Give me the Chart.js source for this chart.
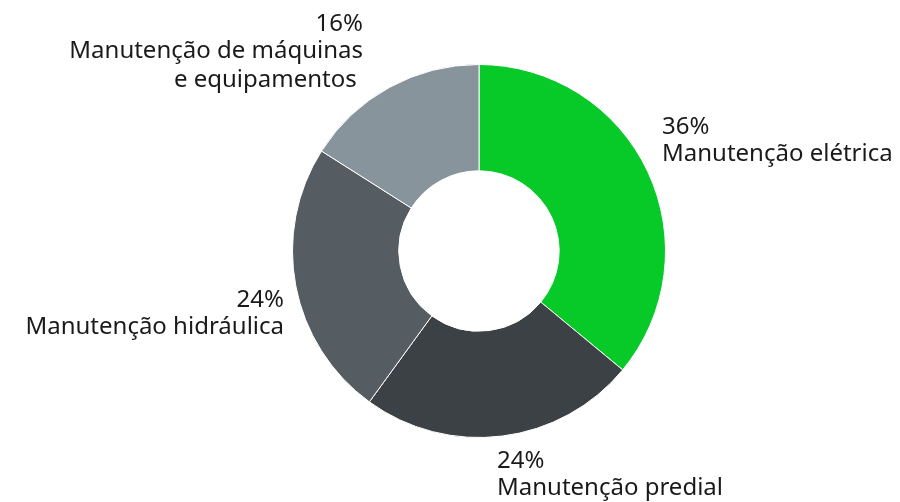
<!DOCTYPE html>
<html lang="pt-BR">
<head>
<meta charset="utf-8">
<title>Manutenção</title>
<script src="https://cdn.jsdelivr.net/npm/chart.js@4/dist/chart.umd.min.js"></script>
<style>
  html, body { margin: 0; padding: 0; background: #fff; }
  #wrap { width: 900px; height: 502px; }
</style>
</head>
<body>
<div id="wrap"><canvas id="donut" width="900" height="502"></canvas></div>
<script>
const categorias = [
  ['Manutenção elétrica'],
  ['Manutenção predial'],
  ['Manutenção hidráulica'],
  ['Manutenção de máquinas', 'e equipamentos ']
];
const percentuais = [36, 24, 24, 16];
const cores = ['#07c927', '#3c4145', '#555d63', '#88949b'];

// where each label sits, relative to the ring centre
const posicoes = [
  { dx: 183, dy: -117, align: 'left' },
  { dx: 18, dy: 217, align: 'left' },
  { dx: -195, dy: 56, align: 'right' },
  { dx: -116, dy: -220, align: 'right' }
];

const FONTE = '24px "Noto Sans", "Open Sans", sans-serif';

const rotulos = {
  id: 'rotulos',
  afterDraw(chart) {
    const ctx = chart.ctx;
    const arco = chart.getDatasetMeta(0).data[0];
    const cx = arco.x, cy = arco.y;
    ctx.save();
    ctx.font = FONTE;
    ctx.fillStyle = '#1a1a1a';
    ctx.textBaseline = 'alphabetic';
    percentuais.forEach((v, i) => {
      const p = posicoes[i];
      ctx.textAlign = p.align;
      const x = cx + p.dx;
      let y = cy + p.dy;
      ctx.fillText(v + '%', x, y);
      y += 27;
      categorias[i].forEach(linha => {
        ctx.fillText(linha, x, y);
        y += 29;
      });
    });
    ctx.restore();
  }
};

new Chart(document.getElementById('donut'), {
  type: 'doughnut',
  data: {
    labels: categorias.map(c => c.join(' ').trim()),
    datasets: [{
      data: percentuais,
      backgroundColor: cores,
      borderColor: '#ffffff',
      borderWidth: 1,
      hoverOffset: 0
    }]
  },
  options: {
    responsive: false,
    animation: false,
    cutout: '43%',
    layout: { padding: { left: 292, right: 234, top: 64, bottom: 64 } },
    plugins: {
      legend: { display: false },
      tooltip: { enabled: false }
    }
  },
  plugins: [rotulos]
});
</script>
</body>
</html>
